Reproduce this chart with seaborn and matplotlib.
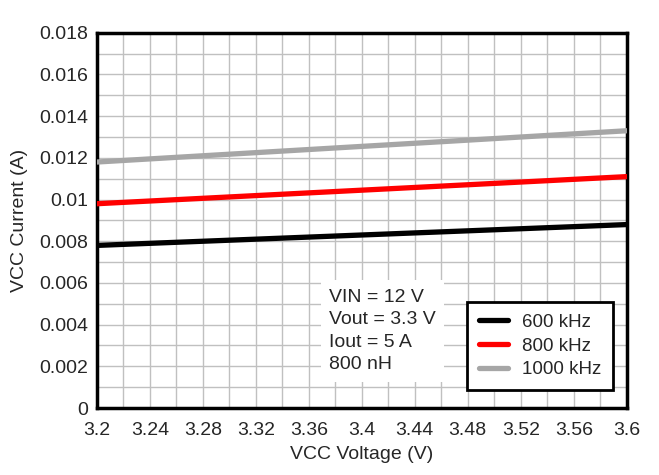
import numpy as np
import pandas as pd
import matplotlib
matplotlib.use("Agg")
import matplotlib.pyplot as plt
import seaborn as sns
from matplotlib.ticker import MultipleLocator, FuncFormatter

# -----------------------------
# Data
# -----------------------------

vcc_voltage = [3.20, 3.24, 3.28, 3.32, 3.36, 3.40, 3.44, 3.48, 3.52, 3.56, 3.60]

current_600k = [0.00780, 0.00790, 0.00800, 0.00810, 0.00820, 0.00830,
                0.00840, 0.00850, 0.00860, 0.00870, 0.00880]
current_800k = [0.00980, 0.00993, 0.01006, 0.01019, 0.01032, 0.01045,
                0.01058, 0.01071, 0.01084, 0.01097, 0.01110]
current_1000k = [0.01180, 0.01195, 0.01210, 0.01225, 0.01240, 0.01255,
                 0.01270, 0.01285, 0.01300, 0.01315, 0.01330]

series_names = ["600 kHz", "800 kHz", "1000 kHz"]
series_colors = ["#000000", "#ff0000", "#a6a6a6"]

conditions = "VIN = 12 V\nVout = 3.3 V\nIout = 5 A\n800 nH"

df = pd.DataFrame({
    "VCC Voltage (V)": vcc_voltage * 3,
    "VCC Current (A)": current_600k + current_800k + current_1000k,
    "Frequency": np.repeat(series_names, len(vcc_voltage)),
})

# -----------------------------
# Plot
# -----------------------------

sns.set_style("white")
plt.rcParams["font.family"] = ["Liberation Sans", "DejaVu Sans"]

fig = plt.figure(figsize=(6.59, 4.75), dpi=100)
ax = fig.add_axes([0.147, 0.141, 0.804, 0.790])

sns.lineplot(
    data=df,
    x="VCC Voltage (V)",
    y="VCC Current (A)",
    hue="Frequency",
    hue_order=series_names,
    palette=series_colors,
    linewidth=3.8,
    ax=ax,
    zorder=3
)

ax.set_xlim(3.2, 3.6)
ax.set_ylim(0, 0.018)

ax.xaxis.set_major_locator(MultipleLocator(0.04))
ax.xaxis.set_minor_locator(MultipleLocator(0.02))
ax.yaxis.set_major_locator(MultipleLocator(0.002))
ax.yaxis.set_minor_locator(MultipleLocator(0.001))

fmt = FuncFormatter(lambda v, p: "%g" % round(v, 6))
ax.xaxis.set_major_formatter(fmt)
ax.yaxis.set_major_formatter(fmt)

ax.grid(which="both", color="#c0c0c0", linewidth=1)
ax.set_axisbelow(True)

ax.tick_params(axis="both", which="both", length=0, labelsize=14)
ax.tick_params(axis="x", pad=10)
ax.tick_params(axis="y", pad=6)

for side in ax.spines.values():
    side.set_color("black")
    side.set_linewidth(2.5)

ax.set_xlabel("VCC Voltage (V)", fontsize=14, labelpad=5)
ax.set_ylabel("VCC Current (A)", fontsize=14, labelpad=8)

ax.text(
    0.438, 0.318,
    conditions,
    transform=ax.transAxes,
    fontsize=14,
    va="top",
    ha="left",
    linespacing=1.43,
    bbox=dict(facecolor="white", edgecolor="none", pad=6),
    zorder=4
)

leg = ax.legend(
    loc="lower right",
    bbox_to_anchor=(0.974, 0.048),
    fontsize=13.5,
    frameon=True,
    fancybox=False,
    framealpha=1,
    edgecolor="black",
    handlelength=1.55,
    handletextpad=0.75,
    borderpad=0.62,
    labelspacing=0.35,
    borderaxespad=0
)
leg.get_frame().set_linewidth(2)
leg.set_zorder(5)

plt.savefig("out.png", dpi=100)
plt.close()
